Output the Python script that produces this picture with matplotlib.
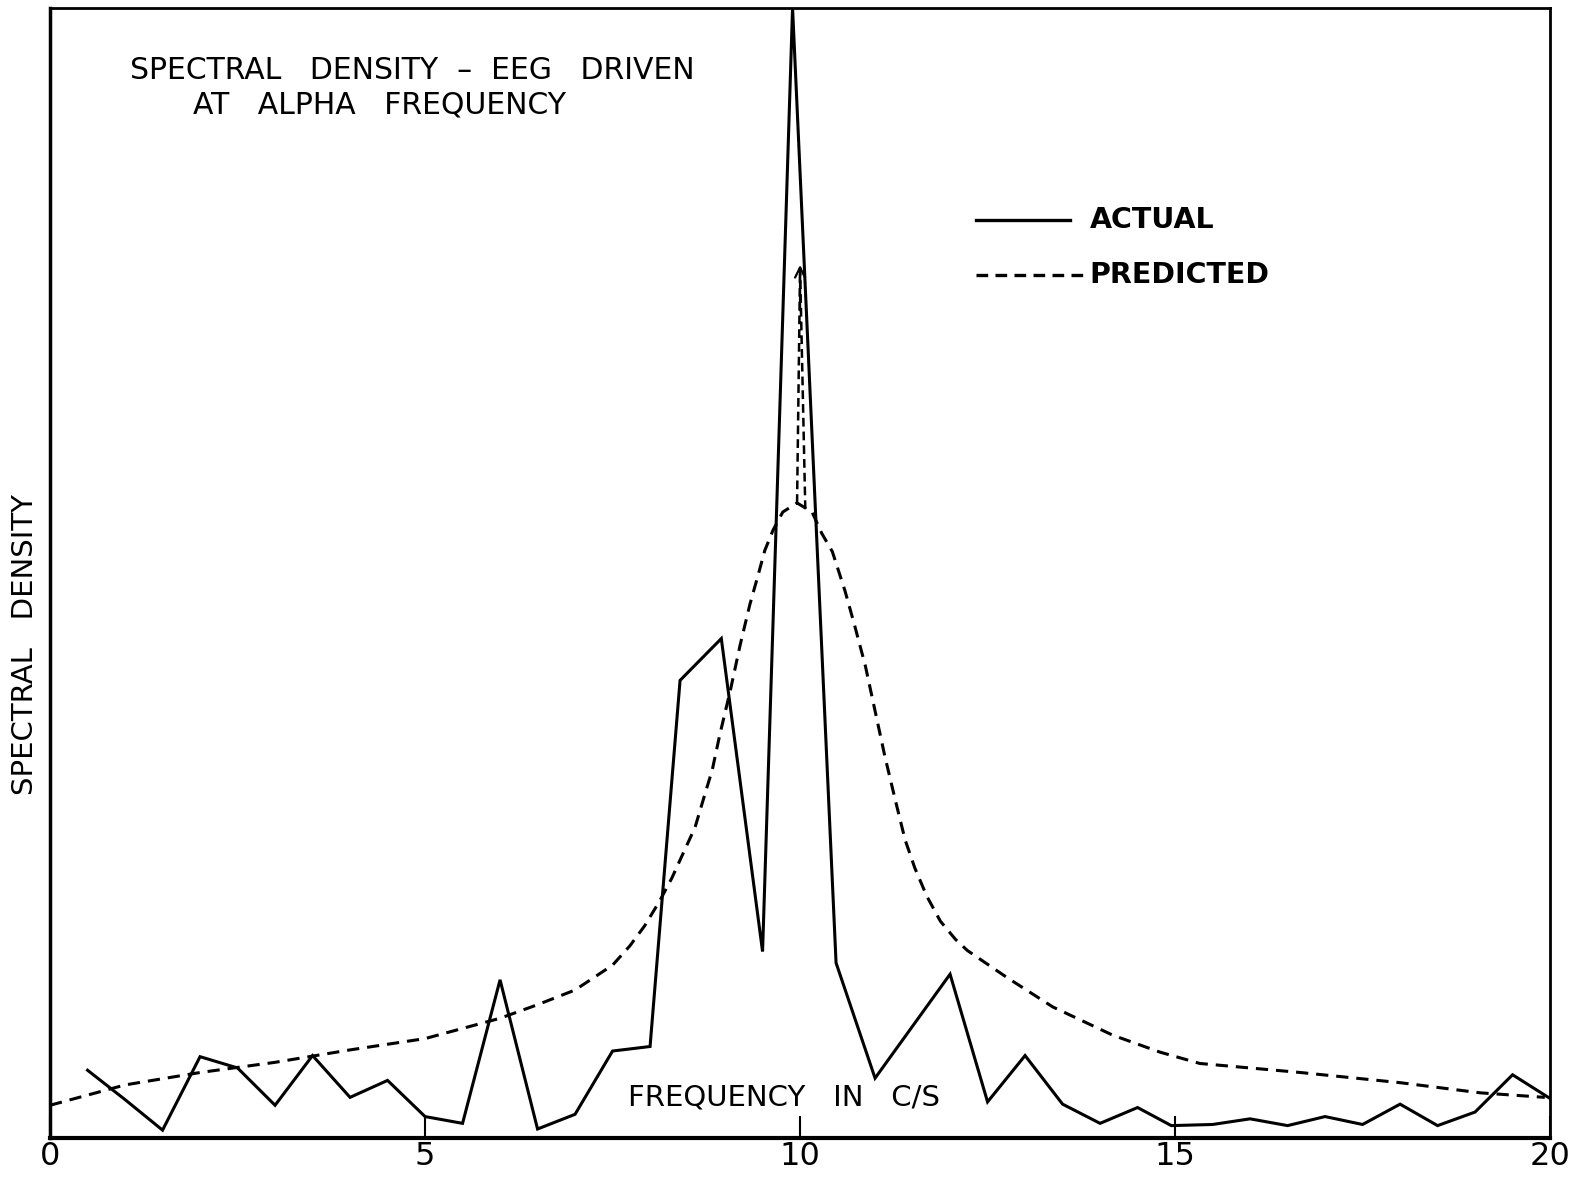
import numpy as np
import matplotlib
matplotlib.use("Agg")
import matplotlib.pyplot as plt

# measured spectral density (arbitrary units, 0-100 full scale)
actual_freq = [0.5, 1.0, 1.5, 2.0, 2.5, 3.0, 3.5, 4.0, 4.5, 5.0, 5.5, 6.0,
               6.5, 7.0, 7.5, 8.0, 8.4, 8.95, 9.5, 9.9, 10.48, 11.0, 12.0,
               12.5, 13.0, 13.5, 14.0, 14.5, 14.95, 15.5, 16.0, 16.5, 17.0,
               17.5, 18.0, 18.5, 19.0, 19.5, 20.0]
actual_sd = [6.0, 3.4, 0.7, 7.2, 6.2, 2.9, 7.3, 3.6, 5.1, 1.9, 1.3, 14.0,
             0.8, 2.1, 7.7, 8.1, 40.5, 44.2, 16.5, 100.0, 15.5, 5.3, 14.5,
             3.2, 7.3, 3.0, 1.3, 2.7, 1.1, 1.2, 1.7, 1.1, 1.9,
             1.2, 3.0, 1.1, 2.3, 5.6, 3.5]

# model prediction
pred_freq = [0.0, 1.0, 2.0, 3.0, 4.0, 5.0, 6.0, 6.5, 7.0, 7.5, 7.73, 7.93,
             8.13, 8.29, 8.4, 8.6, 8.73, 8.83, 8.93, 9.07, 9.2, 9.33, 9.44,
             9.53, 9.64, 9.77, 9.96, 10.16, 10.29, 10.43, 10.6, 10.73, 10.87,
             11.0, 11.13, 11.27, 11.4, 11.53, 11.69, 11.87, 12.07, 12.23,
             12.76, 13.37, 14.17, 14.8, 15.33, 16.67, 18.0, 19.07, 19.93]
pred_sd = [2.9, 4.7, 5.8, 6.7, 7.8, 8.8, 10.6, 11.8, 13.1, 15.3, 17.0, 18.8,
           21.0, 23.0, 24.6, 27.5, 30.4, 32.6, 35.7, 39.6, 43.6, 47.2, 49.8,
           52.0, 53.8, 55.4, 56.2, 55.4, 53.5, 51.9, 48.4, 45.3, 41.8,
           37.8, 33.8, 29.9, 26.4, 23.9, 21.4, 19.2, 17.6, 16.6,
           14.2, 11.6, 9.1, 7.6, 6.6, 5.8, 4.9, 4.0, 3.6]

# line spectrum component of the prediction at the driving frequency
spike_freq = [9.96, 10.0, 10.07]
spike_sd = [56.2, 77.0, 55.6]

xticks = [0, 5, 10, 15, 20]

plt.rcParams['font.family'] = ['DejaVu Sans']

fig = plt.figure(figsize=(15.74, 11.77), dpi=100)
ax = fig.add_axes([0.0318, 0.0331, 0.953, 0.9601])

dash = (4, 2.6)
ax.plot(actual_freq, actual_sd, color='black', lw=2.2, solid_joinstyle='miter')
ax.plot(pred_freq, pred_sd, color='black', lw=2.2, dashes=dash)
ax.plot(spike_freq, spike_sd, color='black', lw=1.8, dashes=(3.5, 2))
ax.annotate('', xy=(10.0, 77.5), xytext=(10.0, 73.0),
            arrowprops=dict(arrowstyle='->', lw=1.6, color='black',
                            mutation_scale=18))

ax.set_xlim(0, 20)
ax.set_ylim(0, 100)
ax.set_xticks(xticks)
ax.set_xticklabels([str(t) for t in xticks], fontsize=23)
ax.set_yticks([])
ax.tick_params(axis='x', direction='in', length=16, width=1.5, pad=2)

for side, w in [('bottom', 3.0), ('left', 2.5), ('top', 2.0), ('right', 2.0)]:
    ax.spines[side].set_linewidth(w)

# title block
ax.text(0.053, 0.945, 'SPECTRAL   DENSITY  \u2013  EEG   DRIVEN',
        transform=ax.transAxes, fontsize=21.5, va='center', ha='left')
ax.text(0.095, 0.914, 'AT   ALPHA   FREQUENCY',
        transform=ax.transAxes, fontsize=21.5, va='center', ha='left')

# key
ax.plot([0.617, 0.68], [0.812, 0.812], transform=ax.transAxes,
        color='black', lw=2.4)
ax.plot([0.617, 0.69], [0.764, 0.764], transform=ax.transAxes,
        color='black', lw=2.4, dashes=(3.5, 2.2))
ax.text(0.693, 0.812, 'ACTUAL', transform=ax.transAxes, fontsize=20.5,
        va='center', ha='left', fontweight='semibold')
ax.text(0.693, 0.764, 'PREDICTED', transform=ax.transAxes, fontsize=20.5,
        va='center', ha='left', fontweight='semibold')

# axis captions
ax.text(0.385, 0.036, 'FREQUENCY   IN   C/S', transform=ax.transAxes,
        fontsize=21, va='center', ha='left')
fig.text(0.016, 0.452, 'SPECTRAL   DENSITY', rotation=90, fontsize=21,
         va='center', ha='center')

fig.savefig('out.png', dpi=100)
